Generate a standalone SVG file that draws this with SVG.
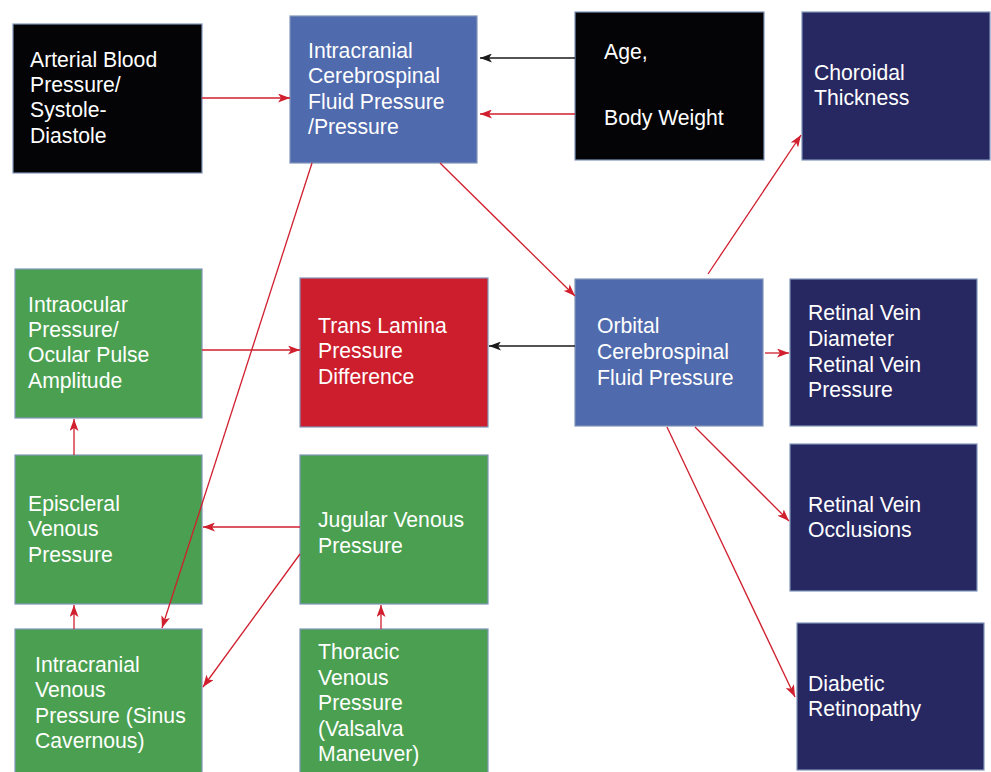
<svg xmlns="http://www.w3.org/2000/svg" width="991" height="772" viewBox="0 0 991 772">
  <style>
    .box { stroke: #8094b8; stroke-width: 1.2; }
    .black { fill: #040406; }
    .blue { fill: #4f6aad; }
    .green { fill: #4aa050; }
    .red { fill: #cc1e2c; }
    .navy { fill: #272762; }
    text { font-family: "Liberation Sans", Arial, sans-serif; font-size: 21.2px; fill: #ffffff; }
    .edge { fill: none; stroke-width: 1.3; }
    .r { stroke: #d01f2e; marker-end: url(#arrRed); }
    .k { stroke: #1a1a1a; marker-end: url(#arrBlack); }
  </style>
  <defs>
    <marker id="arrRed" markerUnits="userSpaceOnUse" markerWidth="13" markerHeight="9" refX="12" refY="4.5" orient="auto">
      <path d="M0,0 L12,4.5 L0,9 L3,4.5 z" fill="#d01f2e"/>
    </marker>
    <marker id="arrBlack" markerUnits="userSpaceOnUse" markerWidth="13" markerHeight="9" refX="12" refY="4.5" orient="auto">
      <path d="M0,0 L12,4.5 L0,9 L3,4.5 z" fill="#1a1a1a"/>
    </marker>
  </defs>

  <rect width="991" height="772" fill="#ffffff"/>

  <!-- nodes -->
  <g id="arterial">
    <rect class="box black" x="13" y="24" width="189" height="149"/>
    <text x="30" y="67">Arterial Blood</text>
    <text x="30" y="92">Pressure/</text>
    <text x="30" y="117">Systole-</text>
    <text x="30" y="143">Diastole</text>
  </g>

  <g id="icsf">
    <rect class="box blue" x="290" y="16" width="187" height="147"/>
    <text x="308" y="58">Intracranial</text>
    <text x="308" y="83">Cerebrospinal</text>
    <text x="308" y="109">Fluid Pressure</text>
    <text x="308" y="134">/Pressure</text>
  </g>

  <g id="age">
    <rect class="box black" x="575" y="12" width="189" height="148"/>
    <text x="604" y="59">Age,</text>
    <text x="604" y="125">Body Weight</text>
  </g>

  <g id="choroidal">
    <rect class="box navy" x="802" y="12" width="188" height="148"/>
    <text x="814" y="80">Choroidal</text>
    <text x="814" y="105">Thickness</text>
  </g>

  <g id="intraocular">
    <rect class="box green" x="15" y="269" width="187" height="149"/>
    <text x="28" y="312">Intraocular</text>
    <text x="28" y="337">Pressure/</text>
    <text x="28" y="362">Ocular Pulse</text>
    <text x="28" y="388">Amplitude</text>
  </g>

  <g id="translamina">
    <rect class="box red" x="300" y="278" width="188" height="149"/>
    <text x="318" y="333">Trans Lamina</text>
    <text x="318" y="358">Pressure</text>
    <text x="318" y="384">Difference</text>
  </g>

  <g id="orbital">
    <rect class="box blue" x="575" y="279" width="188" height="147"/>
    <text x="597" y="333">Orbital</text>
    <text x="597" y="359">Cerebrospinal</text>
    <text x="597" y="385">Fluid Pressure</text>
  </g>

  <g id="retinal-diameter">
    <rect class="box navy" x="790" y="279" width="187" height="147"/>
    <text x="808" y="320">Retinal Vein</text>
    <text x="808" y="346">Diameter</text>
    <text x="808" y="372">Retinal Vein</text>
    <text x="808" y="397">Pressure</text>
  </g>

  <g id="episcleral">
    <rect class="box green" x="15" y="455" width="187" height="149"/>
    <text x="28" y="511">Episcleral</text>
    <text x="28" y="536">Venous</text>
    <text x="28" y="562">Pressure</text>
  </g>

  <g id="jugular">
    <rect class="box green" x="300" y="455" width="188" height="149"/>
    <text x="318" y="527">Jugular Venous</text>
    <text x="318" y="553">Pressure</text>
  </g>

  <g id="occlusions">
    <rect class="box navy" x="790" y="444" width="187" height="147"/>
    <text x="808" y="512">Retinal Vein</text>
    <text x="808" y="537">Occlusions</text>
  </g>

  <g id="intracranial-venous">
    <rect class="box green" x="15" y="629" width="187" height="148"/>
    <text x="35" y="672">Intracranial</text>
    <text x="35" y="697">Venous</text>
    <text x="35" y="723">Pressure (Sinus</text>
    <text x="35" y="748">Cavernous)</text>
  </g>

  <g id="thoracic">
    <rect class="box green" x="300" y="629" width="188" height="148"/>
    <text x="318" y="659">Thoracic</text>
    <text x="318" y="685">Venous</text>
    <text x="318" y="710">Pressure</text>
    <text x="318" y="736">(Valsalva</text>
    <text x="318" y="761">Maneuver)</text>
  </g>

  <g id="diabetic">
    <rect class="box navy" x="797" y="623" width="187" height="147"/>
    <text x="808" y="691">Diabetic</text>
    <text x="808" y="716">Retinopathy</text>
  </g>

  <!-- connectors, drawn above the boxes so the long diagonal crosses the episcleral box -->
  <g id="connectors">
    <line class="edge r" x1="202" y1="98" x2="290" y2="98"/>
    <line class="edge k" x1="575" y1="58" x2="480" y2="58"/>
    <line class="edge r" x1="575" y1="114" x2="480" y2="114"/>
    <line class="edge r" x1="440" y1="163" x2="575" y2="296"/>
    <line class="edge r" x1="312" y1="163" x2="162" y2="628"/>
    <line class="edge r" x1="708" y1="274" x2="801" y2="135"/>
    <line class="edge k" x1="575" y1="346" x2="489" y2="346"/>
    <line class="edge r" x1="765" y1="353" x2="789" y2="353"/>
    <line class="edge r" x1="695" y1="427" x2="789" y2="521"/>
    <line class="edge r" x1="667" y1="427" x2="795" y2="697"/>
    <line class="edge r" x1="202" y1="350" x2="300" y2="350"/>
    <line class="edge r" x1="74" y1="455" x2="74" y2="419"/>
    <line class="edge r" x1="300" y1="527" x2="203" y2="527"/>
    <line class="edge r" x1="300" y1="554" x2="203" y2="687"/>
    <line class="edge r" x1="74" y1="629" x2="74" y2="605"/>
    <line class="edge r" x1="381" y1="629" x2="381" y2="605"/>
  </g>
</svg>
